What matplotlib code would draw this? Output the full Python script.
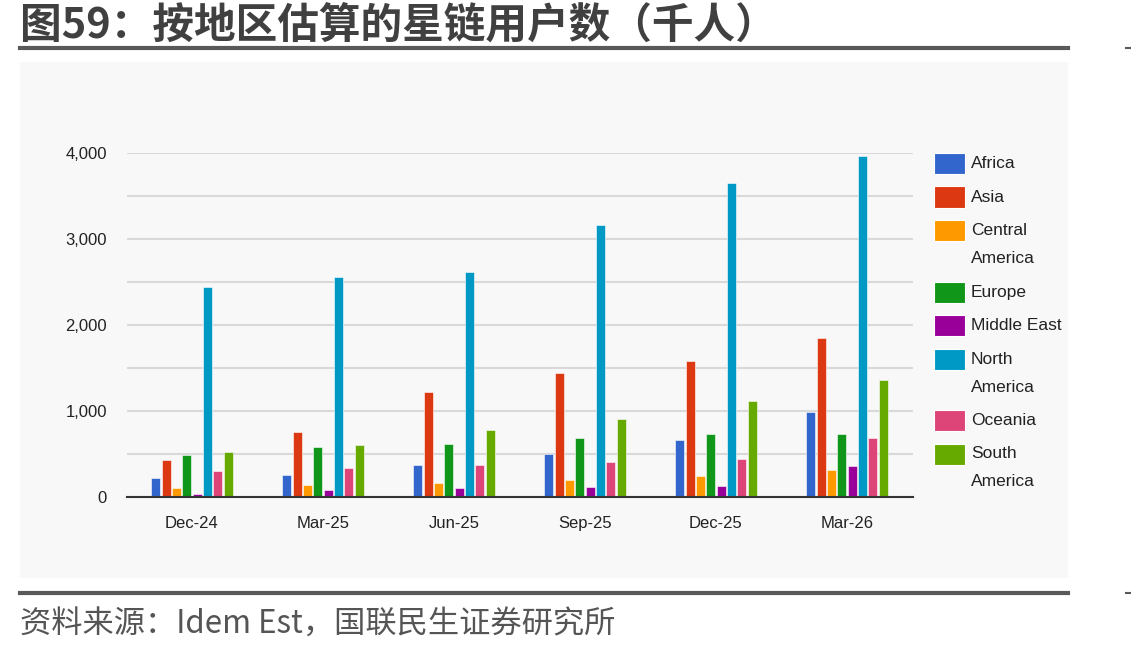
import matplotlib.pyplot as plt
from matplotlib.patches import Rectangle
from matplotlib.lines import Line2D
import numpy as np

# data (thousand users)
periods = ["Dec-24", "Mar-25", "Jun-25", "Sep-25", "Dec-25", "Mar-26"]
regions = ["Africa", "Asia", "Central\nAmerica", "Europe", "Middle East",
           "North\nAmerica", "Oceania", "South\nAmerica"]
colors = ["#3366cc", "#dc3912", "#ff9900", "#109618", "#990099",
          "#0099c6", "#dd4477", "#66aa00"]

africa = [218, 252, 377, 505, 667, 988]
asia = [430, 756, 1221, 1447, 1578, 1853]
central_america = [106, 136, 167, 202, 248, 310]
europe = [494, 578, 620, 690, 737, 737]
middle_east = [40, 78, 105, 116, 132, 360]
north_america = [2445, 2554, 2616, 3167, 3655, 3968]
oceania = [302, 333, 377, 410, 442, 690]
south_america = [526, 608, 784, 912, 1121, 1357]

series = [africa, asia, central_america, europe, middle_east,
          north_america, oceania, south_america]

W, H = 1131, 654
fig = plt.figure(figsize=(W / 100, H / 100), dpi=100)
fig.patch.set_facecolor("white")

cjk = ["Noto Sans CJK SC", "DejaVu Sans"]
latin = ["Liberation Sans", "DejaVu Sans"]


def fx(px):
    return px / W


def fy(py):
    return 1 - py / H


# panel background
fig.add_artist(Rectangle((fx(20), fy(578)), 1048 / W, 516 / H,
                         transform=fig.transFigure, facecolor="#f8f8f8",
                         edgecolor="none", zorder=0))

# title and rules
fig.text(fx(20), fy(26), "图59：按地区估算的星链用户数（千人）", family=cjk,
         fontsize=30, fontweight="bold", color="#404040", va="center", ha="left")
for y in (48, 593):
    fig.add_artist(Line2D([fx(20), fx(1068)], [fy(y), fy(y)],
                          transform=fig.transFigure, color="#595959", lw=3))
    fig.add_artist(Line2D([fx(1126), fx(1131)], [fy(y), fy(y)],
                          transform=fig.transFigure, color="#595959", lw=1.5))
fig.text(fx(20), fy(625), "资料来源：Idem Est，国联民生证券研究所", family=cjk,
         fontsize=22.5, color="#555555", va="center", ha="left")

# chart
ax = fig.add_axes([fx(126.5), fy(497), 786 / W, 344 / H])
ax.set_facecolor("#f8f8f8")
x = np.arange(len(periods))
step = 0.079
width = 0.07
for i, (vals, c, name) in enumerate(zip(series, colors, regions)):
    ax.bar(x + (i - 3.5) * step, vals, width, color=c, label=name,
           edgecolor="white", linewidth=0.4, zorder=3)

ax.set_xlim(-0.5, 5.5)
ax.set_ylim(0, 4000)
ax.set_yticks(np.arange(0, 4001, 500))
ax.set_yticklabels(["{:,}".format(v) if v % 1000 == 0 else "" for v in range(0, 4001, 500)])
ax.grid(axis="y", color="#d9d9d9", lw=1.5, zorder=0)
ax.set_xticks(x)
ax.set_xticklabels(periods)
for s in ("top", "right", "left"):
    ax.spines[s].set_visible(False)
ax.spines["bottom"].set_color("#333333")
ax.spines["bottom"].set_linewidth(1.5)
ax.spines["bottom"].set_zorder(4)
ax.tick_params(length=0, labelsize=12, colors="#222222", pad=14)
for t in ax.get_xticklabels() + ax.get_yticklabels():
    t.set_family(latin)

# legend, drawn by hand so the swatch sits next to the first text line
y = 163.5
for name, c in zip(regions, colors):
    fig.add_artist(Rectangle((fx(934), fy(y + 10.5)), 31 / W, 21 / H,
                             transform=fig.transFigure, facecolor=c,
                             edgecolor="#ffffff", lw=0.8))
    for k, line in enumerate(name.split("\n")):
        fig.text(fx(971), fy(y + 28 * k), line, family=latin, fontsize=12.5,
                 color="#222222", va="center", ha="left")
    y += 28 * (name.count("\n")) + 33.5

fig.savefig("out.png", dpi=100)
